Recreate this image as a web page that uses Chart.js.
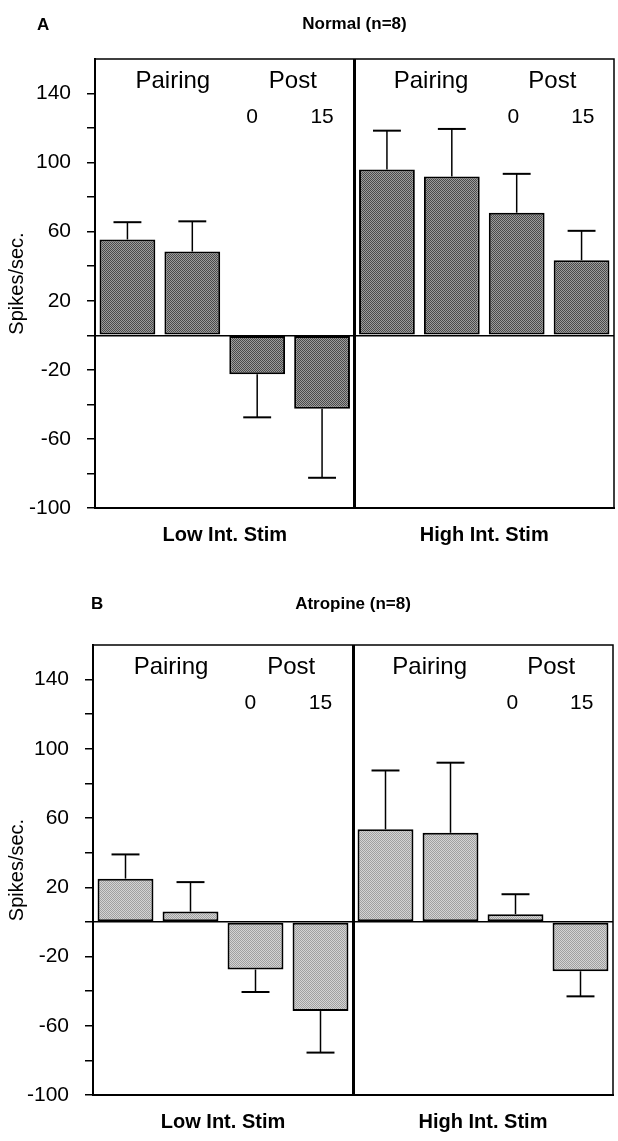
<!DOCTYPE html>
<html>
<head>
<meta charset="utf-8">
<script src="https://cdn.jsdelivr.net/npm/chart.js@4.4.0/dist/chart.umd.min.js"></script>
<style>
body { margin: 0; background: #fff; }
.panel { position: absolute; left: 0; width: 618px; }
#wrapA { top: 0; height: 560px; }
#wrapB { top: 560px; height: 581px; }
</style>
</head>
<body>
<div class="panel" id="wrapA"><canvas id="chartA"></canvas></div>
<div class="panel" id="wrapB"><canvas id="chartB"></canvas></div>
<script>
// conditions: low / high intensity stimulation, pairing x2, post 0 and post 15 min
var categories = ['Low Pairing 1', 'Low Pairing 2', 'Low Post 0', 'Low Post 15',
                  'High Pairing 1', 'High Pairing 2', 'High Post 0', 'High Post 15'];
var groupLabels = ['Low Int. Stim', 'High Int. Stim'];

var normalMeans = [55.5, 48.5, -22.5, -42.5, 96, 92, 71, 43.5];
var normalSem = [10, 17.5, 25, 40, 22.5, 27.5, 22.5, 17];

var atropineMeans = [25, 6, -27.5, -51.5, 53.5, 51.5, 4.5, -28.5];
var atropineSem = [14, 17, 13, 24, 34, 40.5, 11.5, 14.5];

var yTickLabels = [140, 100, 60, 20, -20, -60, -100];

// text written inside the plot (x in category units, y in data units)
var notes = [
  { text: 'Pairing', at: 0.7, value: 143, size: 24 },
  { text: 'Post', at: 2.55, value: 143, size: 24 },
  { text: '0', at: 1.92, value: 123, size: 21 },
  { text: '15', at: 3.0, value: 123, size: 21 },
  { text: 'Pairing', at: 4.68, value: 143, size: 24 },
  { text: 'Post', at: 6.55, value: 143, size: 24 },
  { text: '0', at: 5.95, value: 123, size: 21 },
  { text: '15', at: 7.02, value: 123, size: 21 }
];

var FONT = "'Liberation Sans', Arial, Helvetica, sans-serif";
Chart.defaults.font.family = FONT;
Chart.defaults.color = '#000';

function stipple(light, dark) {
  var c = document.createElement('canvas');
  c.width = 2; c.height = 2;
  var g = c.getContext('2d');
  g.fillStyle = light;
  g.fillRect(0, 0, 2, 2);
  g.fillStyle = dark;
  g.fillRect(0, 0, 1, 1);
  g.fillRect(1, 1, 1, 1);
  return g.createPattern(c, 'repeat');
}

var errorBars = {
  id: 'errorBars',
  afterDatasetsDraw: function(chart) {
    var ds = chart.data.datasets[0];
    var meta = chart.getDatasetMeta(0);
    var y = chart.scales.y;
    var ctx = chart.ctx;
    ctx.save();
    ctx.strokeStyle = '#000';
    meta.data.forEach(function(bar, i) {
      var v = ds.data[i], e = ds.errors[i];
      var end = y.getPixelForValue(v >= 0 ? v + e : v - e);
      var half = bar.width / 4;
      ctx.lineWidth = 1.5;
      ctx.beginPath();
      ctx.moveTo(bar.x, bar.y);
      ctx.lineTo(bar.x, end);
      ctx.stroke();
      ctx.lineWidth = 2;
      ctx.beginPath();
      ctx.moveTo(bar.x - half, end);
      ctx.lineTo(bar.x + half, end);
      ctx.stroke();
    });
    ctx.restore();
  }
};

var frameAndText = {
  id: 'frameAndText',
  afterDraw: function(chart, args, opts) {
    var ctx = chart.ctx;
    var a = chart.chartArea;
    var x = chart.scales.x, y = chart.scales.y;
    ctx.save();
    // top and right edge of the box
    ctx.strokeStyle = '#000';
    ctx.lineWidth = 1.5;
    ctx.beginPath();
    ctx.moveTo(a.left, a.top);
    ctx.lineTo(a.right, a.top);
    ctx.lineTo(a.right, a.bottom);
    ctx.stroke();

    ctx.fillStyle = '#000';
    ctx.textAlign = 'center';
    ctx.textBaseline = 'alphabetic';
    notes.forEach(function(n) {
      ctx.font = n.size + 'px ' + FONT;
      ctx.fillText(n.text, x.getPixelForValue(n.at), y.getPixelForValue(n.value));
    });

    ctx.font = 'bold 17px ' + FONT;
    ctx.textAlign = 'left';
    ctx.textBaseline = 'middle';
    ctx.fillText(opts.letter, opts.letterX, opts.letterY);
    ctx.restore();
  }
};

function makeChart(id, title, letter, means, sem, fill, lay) {
  return new Chart(document.getElementById(id), {
    type: 'bar',
    data: {
      labels: categories,
      datasets: [{
        data: means,
        errors: sem,
        backgroundColor: fill,
        borderColor: '#000',
        borderWidth: 2,
        borderSkipped: false,
        barPercentage: 0.86,
        categoryPercentage: 1.0
      }]
    },
    options: {
      responsive: true,
      maintainAspectRatio: false,
      animation: false,
      events: [],
      layout: { padding: { left: 0, top: 0, right: lay.right, bottom: lay.bottom } },
      plugins: {
        legend: { display: false },
        tooltip: { enabled: false },
        title: {
          display: true,
          text: title,
          fullSize: false,
          font: { size: 17, weight: 'bold' },
          padding: { top: lay.titleTop, bottom: lay.titleBottom }
        },
        frameAndText: { letter: letter, letterX: lay.letterX, letterY: lay.letterY }
      },
      scales: {
        x: {
          weight: 0,
          ticks: { display: false },
          grid: {
            offset: true,
            drawTicks: false,
            color: function(c) { return c.index === 4 ? '#000' : 'rgba(0,0,0,0)'; },
            lineWidth: function(c) { return c.index === 4 ? 3 : 1; }
          },
          border: { display: true, color: '#000', width: 2 }
        },
        x2: {
          type: 'category',
          labels: groupLabels,
          position: 'bottom',
          weight: 1,
          offset: true,
          grid: { display: false },
          border: { display: false },
          ticks: { font: { size: 20, weight: 'bold' }, padding: 7, maxRotation: 0 }
        },
        y: {
          min: -100,
          max: 160,
          afterFit: function(scale) { scale.width = lay.left; },
          ticks: {
            stepSize: 20,
            padding: 16,
            font: { size: 21 },
            callback: function(v) { return yTickLabels.indexOf(v) >= 0 ? String(v) : ''; }
          },
          grid: {
            tickLength: 8,
            lineWidth: 1.5,
            color: function(c) { return c.tick && c.tick.value === 0 ? '#000' : 'rgba(0,0,0,0)'; },
            tickColor: function(c) { return c.tick && c.tick.value === 160 ? 'rgba(0,0,0,0)' : '#000'; }
          },
          border: { display: true, color: '#000', width: 2 },
          title: {
            display: true,
            text: 'Spikes/sec.',
            font: { size: 20 },
            padding: { top: 5, bottom: 0 }
          }
        }
      }
    },
    plugins: [errorBars, frameAndText]
  });
}

makeChart('chartA', 'Normal (n=8)', 'A', normalMeans, normalSem, stipple('#9c9c9c', '#4a4a4a'),
  { left: 95, right: 4, bottom: 6, titleTop: 14.6, titleBottom: 24, letterX: 37, letterY: 25 });
makeChart('chartB', 'Atropine (n=8)', 'B', atropineMeans, atropineSem, stipple('#d4d4d4', '#a0a0a0'),
  { left: 93, right: 5, bottom: 0, titleTop: 33.8, titleBottom: 30.8, letterX: 91, letterY: 44 });
</script>
</body>
</html>
